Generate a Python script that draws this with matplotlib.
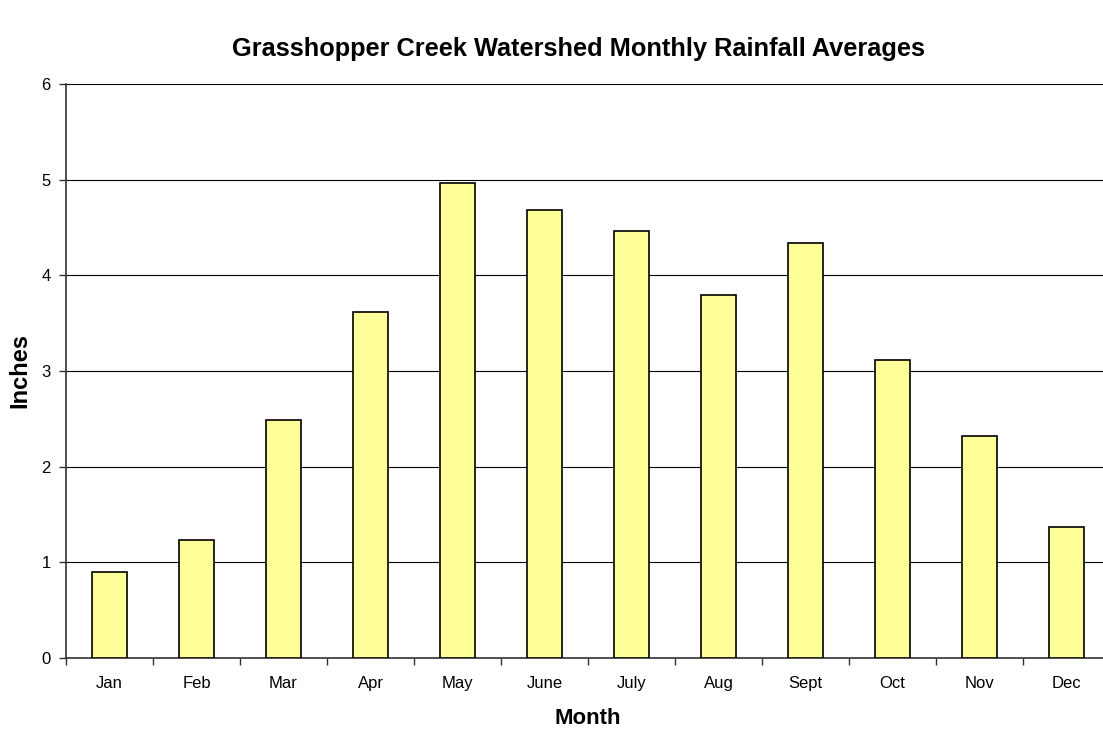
import matplotlib
matplotlib.use('Agg')
import matplotlib.pyplot as plt
import numpy as np

months = ["Jan", "Feb", "Mar", "Apr", "May", "June", "July", "Aug", "Sept", "Oct", "Nov", "Dec"]
rainfall = [0.90, 1.23, 2.49, 3.62, 4.97, 4.68, 4.46, 3.79, 4.34, 3.12, 2.32, 1.37]

plt.rcParams['font.family'] = ['Liberation Sans', 'DejaVu Sans']

W, H = 1103, 729
fig = plt.figure(figsize=(W / 100, H / 100), dpi=100)
fig.patch.set_facecolor('white')

# axes box in pixel coords: left 66, right ~1110 (runs off the image), top 84, bottom 658
ax = fig.add_axes([66 / W, 1 - 658 / H, 1044 / W, (658 - 84) / H])

x = np.arange(len(months))
ax.bar(x, rainfall, width=0.40, color='#FFFF99', edgecolor='black', linewidth=1.2, zorder=3)

ax.set_xlim(-0.5, len(months) - 0.5)
ax.set_ylim(0, 6)
ax.set_yticks(range(0, 7))
ax.yaxis.grid(True, color='black', linewidth=0.8, zorder=0)
ax.set_axisbelow(True)

ax.set_xticks(x)
ax.set_xticklabels(months, fontsize=12)
ax.set_xticks(np.arange(-0.5, len(months)), minor=True)
ax.tick_params(axis='x', which='major', length=0, pad=13)
ax.tick_params(axis='x', which='minor', length=5, width=1, direction='out', color='#333333')
ax.tick_params(axis='y', length=5, width=1, direction='out', labelsize=12, pad=6, color='#333333')

for side in ['top', 'right']:
    ax.spines[side].set_visible(False)
for side in ['left', 'bottom']:
    ax.spines[side].set_color('#333333')
    ax.spines[side].set_linewidth(1.2)

ax.set_xlabel("Month", fontsize=16, fontweight='bold', labelpad=12)
ax.set_ylabel("Inches", fontsize=17, fontweight='bold', labelpad=7)

fig.text(578 / W, 1 - 49 / H, "Grasshopper Creek Watershed Monthly Rainfall Averages",
         ha='center', va='center', fontsize=18.3, fontweight='bold')

fig.savefig("out.png", dpi=100, facecolor='white')
